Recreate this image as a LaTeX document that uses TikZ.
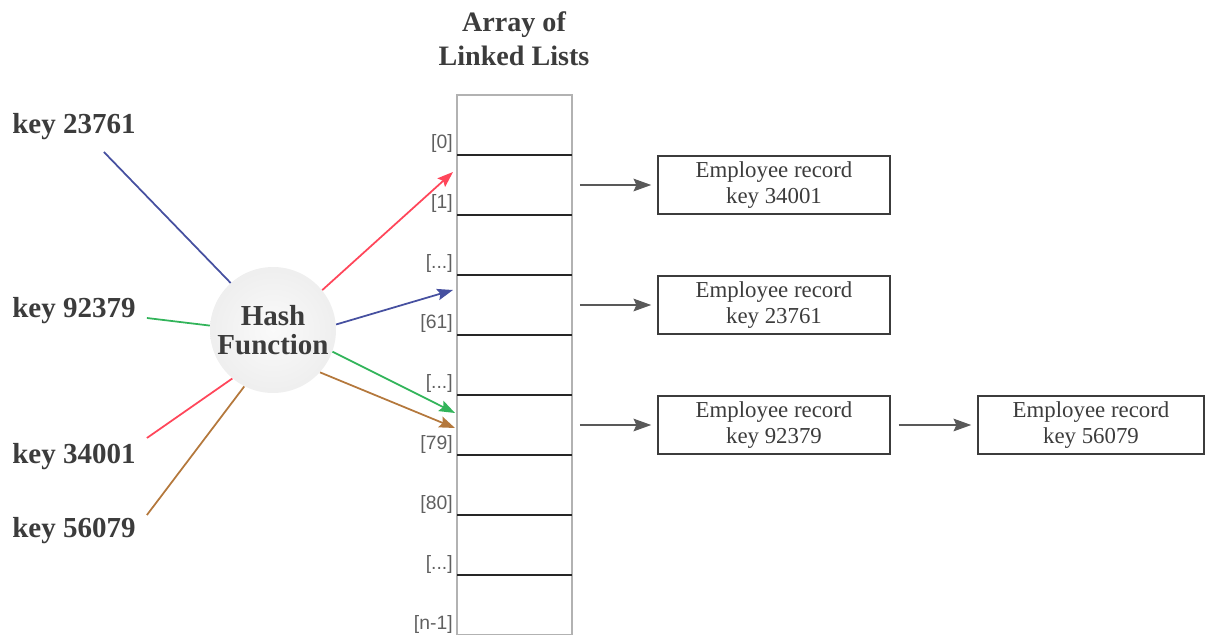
\documentclass[tikz,border=0pt]{standalone}
\usepackage{fontspec}
\setmainfont{Liberation Serif}
\newfontfamily\idxfont{Liberation Sans}
\usepackage{tikz}
\usetikzlibrary{arrows.meta}
\definecolor{hblue}{RGB}{70,80,160}
\definecolor{hgreen}{RGB}{50,180,90}
\definecolor{hred}{RGB}{255,70,90}
\definecolor{hbrown}{RGB}{180,120,60}
\definecolor{txtgray}{RGB}{60,60,60}
\pgfdeclareradialshading{hashball}{\pgfpoint{0bp}{0bp}}{color(0bp)=(gray!4); color(28bp)=(gray!14); color(50bp)=(gray!36)}

\begin{document}
\begin{tikzpicture}[x=0.02cm, y=-0.02cm,
    key/.style={font=\bfseries\fontsize{16.5}{19}\selectfont, txtgray, inner sep=0pt},
    title/.style={font=\bfseries\fontsize{16}{19.3}\selectfont, txtgray, align=center},
    cell/.style={draw=gray!60, line width=1pt, minimum width=2.3cm, minimum height=1.2cm,
        inner sep=0pt, outer sep=0pt},
    idx/.style={font=\idxfont\fontsize{11}{12}\selectfont, gray!75!black, inner sep=0pt},
    record/.style={draw=gray!80!black, line width=0.8pt, minimum width=4.64cm, minimum height=1.16cm,
        align=center, font=\fontsize{13}{15}\selectfont, txtgray, inner sep=0pt},
    ptr/.style={gray!70!black, line width=1.6pt, -{Stealth[length=10pt,width=7pt,inset=1.5pt]},
        shorten <=0.16cm, shorten >=0.12cm},
    hline/.style={line width=1pt},
    harrow/.style={line width=1pt, -{Stealth[length=9pt,width=6.5pt,inset=1.5pt]}}]
    \useasboundingbox (0,0) rectangle (1206,635);

    \node[title] (ttl) at (514,39) {Array of\\Linked Lists};

    % the array of linked lists
    \foreach \i/\t in {0/{[0]},1/{[1]},2/{[...]},3/{[61]},4/{[...]},5/{[79]},6/{[80]},7/{[...]},8/{[n-1]}}{
        \node[cell] (cell\i) at (514.5,125+60*\i) {};
        \node[idx, anchor=base east] (l\i) at ([shift={(-4,-6)}]cell\i.south west) {\t};
    }
    \foreach \i in {0,...,7}
        \draw[gray!30!black, line width=1.3pt] (cell\i.south west) -- (cell\i.south east);

    \node[circle, minimum size=2.52cm, shading=hashball, align=center, inner sep=0pt,
        font=\bfseries\fontsize{16.5}{16.5}\selectfont, txtgray] (hf) at (273,330) {Hash\\Function};

    \node[key, anchor=base west] (k1) at (12,133) {key 23761};
    \node[key, anchor=base west] (k2) at (12,317) {key 92379};
    \node[key, anchor=base west] (k3) at (12,463) {key 34001};
    \node[key, anchor=base west] (k4) at (12,537) {key 56079};

    \foreach \k/\dx/\dy/\a/\c in {k1/-32/19/132/hblue, k2/11/1/176/hgreen, k3/11/-25/230/hred, k4/11/-22/243/hbrown}
        \draw[hline,\c] ([shift={(\dx,\dy)}]\k.base east) -- (hf.\a);

    \foreach \a/\s/\dx/\dy/\c in {39/cell1/-4/-13/hred, 5/cell3/-4/-15/hblue, -20/cell5/-2/-12/hgreen, -42/cell5/-2/3/hbrown}
        \draw[harrow,\c] (hf.\a) -- ([shift={(\dx,\dy)}]\s.west);

    % records
    \node[record] (r1) at (774,185) {Employee record\\key 34001};
    \node[record] (r2) at (774,305) {Employee record\\key 23761};
    \node[record] (r3) at (774,425) {Employee record\\key 92379};
    \node[record, minimum width=4.52cm] (r4) at (1091,425) {Employee record\\key 56079};

    \foreach \s/\t in {cell1/r1, cell3/r2, cell5/r3, r3/r4}
        \draw[ptr] (\s.east) -- (\t.west);

\end{tikzpicture}
\end{document}
